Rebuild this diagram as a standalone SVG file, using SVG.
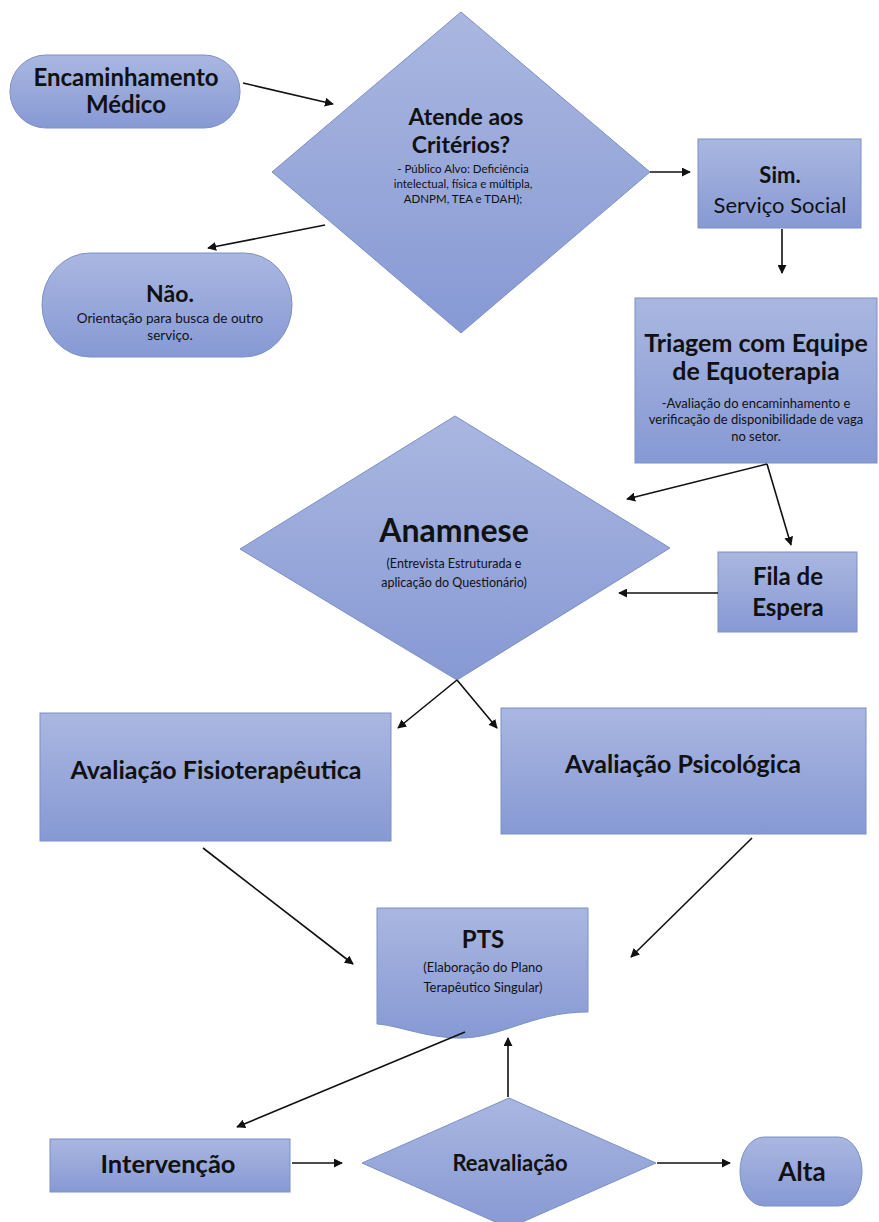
<svg xmlns="http://www.w3.org/2000/svg" width="879" height="1222" viewBox="0 0 879 1222">
<defs>
<linearGradient id="g" x1="0" y1="0" x2="0" y2="1">
<stop offset="0" stop-color="#a9b7e0"/>
<stop offset="1" stop-color="#8799d4"/>
</linearGradient>
<marker id="ah" viewBox="0 0 10 10" refX="9" refY="5" markerWidth="9" markerHeight="9" markerUnits="userSpaceOnUse" orient="auto">
<path d="M0,0 L10,5 L0,10 z" fill="#111"/>
</marker>
<style>
.n{fill:url(#g);stroke:#7d8fc6;stroke-width:1}
text{font-family:Lato,"Open Sans","Liberation Sans",sans-serif;fill:#111;text-anchor:middle}
.b{font-weight:700}
.c line,.c path{stroke:#111;stroke-width:1.6;fill:none;marker-end:url(#ah)}
</style>
</defs>
<rect width="879" height="1222" fill="#fff"/>

<g id="encaminhamento">
<rect class="n" x="10" y="55" width="230" height="73" rx="36" ry="36"/>
<text class="b" x="126" y="86" font-size="24">Encaminhamento</text>
<text class="b" x="126" y="113" font-size="24">Médico</text>
</g>

<g id="criterios">
<polygon class="n" points="461,12 650,172 461,333 272,172"/>
<text class="b" x="466" y="125" font-size="23">Atende aos</text>
<text class="b" x="461" y="153" font-size="23">Critérios?</text>
<text x="463" y="173" font-size="11.5">- Público Alvo: Deficiência</text>
<text x="463" y="188" font-size="11.5">intelectual, física e múltipla,</text>
<text x="463" y="203" font-size="11.5">ADNPM, TEA e TDAH);</text>
</g>

<g id="nao">
<rect class="n" x="42" y="253" width="250" height="104" rx="48" ry="52"/>
<text class="b" x="170" y="302" font-size="23">Não.</text>
<text x="170" y="323" font-size="13.5">Orientação para busca de outro</text>
<text x="170" y="340" font-size="13.5">serviço.</text>
</g>

<g id="sim">
<rect class="n" x="698" y="139" width="163" height="89"/>
<text class="b" x="780" y="183" font-size="22">Sim.</text>
<text x="780" y="213" font-size="22">Serviço Social</text>
</g>

<g id="triagem">
<rect class="n" x="635" y="298" width="242" height="165"/>
<text class="b" x="756" y="352" font-size="25">Triagem com Equipe</text>
<text class="b" x="756" y="380" font-size="25">de Equoterapia</text>
<text x="756" y="408" font-size="13">-Avaliação do encaminhamento e</text>
<text x="756" y="424" font-size="13">verificação de disponibilidade de vaga</text>
<text x="756" y="441" font-size="13">no setor.</text>
</g>

<g id="anamnese">
<polygon class="n" points="455,416 670,548 457,680 240,549"/>
<text class="b" x="454" y="542" font-size="32">Anamnese</text>
<text x="454" y="568" font-size="12.5">(Entrevista Estruturada e</text>
<text x="454" y="587" font-size="12.5">aplicação do Questionário)</text>
</g>

<g id="fila">
<rect class="n" x="718" y="552" width="139" height="80"/>
<text class="b" x="788" y="585" font-size="24">Fila de</text>
<text class="b" x="788" y="616" font-size="24">Espera</text>
</g>

<g id="fisio">
<rect class="n" x="40" y="713" width="351" height="128"/>
<text class="b" x="216" y="779" font-size="25">Avaliação Fisioterapêutica</text>
</g>

<g id="psico">
<rect class="n" x="501" y="708" width="365" height="126"/>
<text class="b" x="683" y="773" font-size="25">Avaliação Psicológica</text>
</g>

<g id="pts">
<path class="n" d="M377,908 L588,908 L588,1012 C530,1012 500,1040 455,1038 C420,1036 400,1026 377,1024 Z"/>
<text class="b" x="483" y="948" font-size="24">PTS</text>
<text x="483" y="972" font-size="13">(Elaboração do Plano</text>
<text x="483" y="992" font-size="13">Terapêutico Singular)</text>
</g>

<g id="intervencao">
<rect class="n" x="50" y="1139" width="240" height="53"/>
<text class="b" x="168" y="1173" font-size="25.5">Intervenção</text>
</g>

<g id="reavaliacao">
<polygon class="n" points="509,1098 656,1163 509,1228 362,1163"/>
<text class="b" x="510" y="1171" font-size="22">Reavaliação</text>
</g>

<g id="alta">
<rect class="n" x="740" y="1137" width="122" height="69" rx="24" ry="34"/>
<text class="b" x="802" y="1181" font-size="26">Alta</text>
</g>

<g id="connectors" class="c">
<line x1="243" y1="83" x2="333" y2="104"/>
<line x1="325" y1="225" x2="208" y2="248"/>
<line x1="650" y1="172" x2="690" y2="172"/>
<line x1="782" y1="229" x2="782" y2="273"/>
<line x1="767" y1="464" x2="627" y2="499"/>
<line x1="767" y1="464" x2="791" y2="545"/>
<line x1="718" y1="593" x2="619" y2="593"/>
<line x1="457" y1="680" x2="398" y2="728"/>
<line x1="457" y1="680" x2="497" y2="728"/>
<line x1="203" y1="848" x2="353" y2="964"/>
<line x1="752" y1="838" x2="631" y2="957"/>
<line x1="465" y1="1032" x2="237" y2="1127"/>
<line x1="508" y1="1097" x2="508" y2="1038"/>
<line x1="292" y1="1163" x2="342" y2="1163"/>
<line x1="657" y1="1163" x2="730" y2="1163"/>
</g>
</svg>
